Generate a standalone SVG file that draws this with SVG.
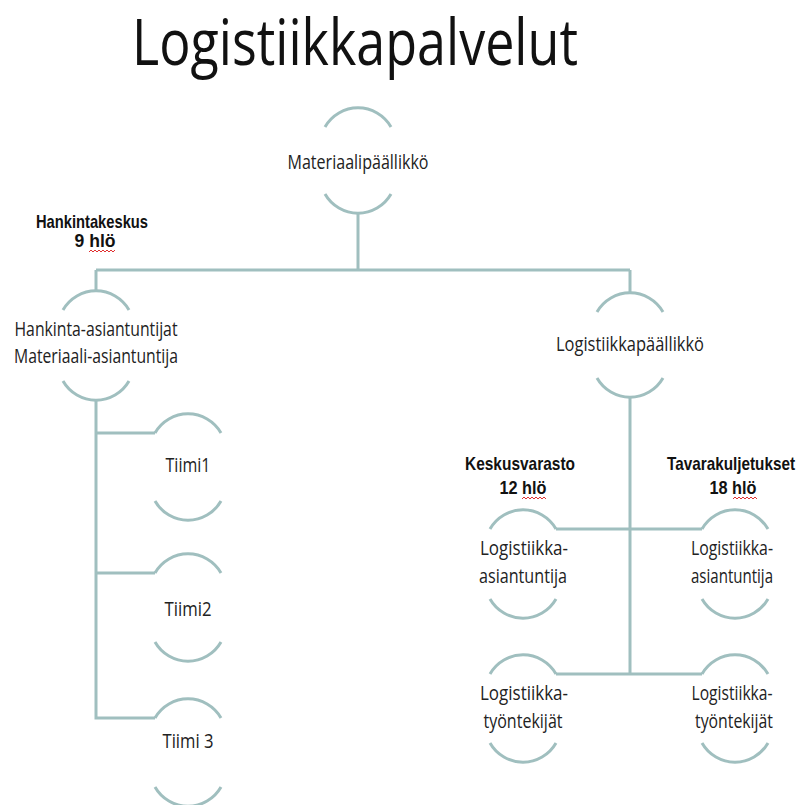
<svg xmlns="http://www.w3.org/2000/svg" width="798" height="805" viewBox="0 0 798 805">
<style>
.ln{fill:none;stroke:#a0bfbf;stroke-width:3;stroke-linecap:butt}
.arc{fill:none;stroke:#a0bfbf;stroke-width:3}
.t{font-family:"Open Sans","DejaVu Sans",sans-serif;font-size:20px;fill:#222;text-anchor:middle}
.b{font-family:"Liberation Sans",Arial,sans-serif;font-weight:bold;font-size:19px;fill:#111;text-anchor:middle}
.sq{fill:none;stroke:#e03030;stroke-width:1}
</style>
<rect width="798" height="805" fill="#fff"/>
<text x="132" y="65" font-family="Open Sans, DejaVu Sans, sans-serif" font-size="64" fill="#111" textLength="446" lengthAdjust="spacingAndGlyphs">Logistiikkapalvelut</text>

<g id="connectors">
<path class="ln" d="M358,213 V270"/>
<path class="ln" d="M96,270 H630"/>
<path class="ln" d="M96,270 V292"/>
<path class="ln" d="M630,270 V293"/>
<path class="ln" d="M96,399 V718 H155"/>
<path class="ln" d="M96,433 H155"/>
<path class="ln" d="M96,573 H155"/>
<path class="ln" d="M630,397 V674"/>
<path class="ln" d="M556,529 H702"/>
<path class="ln" d="M556,674 H702"/>
</g>

<g id="labels">
<text class="b" x="92" y="228" textLength="112" lengthAdjust="spacingAndGlyphs">Hankintakeskus</text>
<text class="b" x="95" y="247" textLength="41" lengthAdjust="spacingAndGlyphs">9 hlö</text>
<path class="sq" d="M89,252 l2,-2 l2,2 l2,-2 l2,2 l2,-2 l2,2 l2,-2 l2,2 l2,-2 l2,2 l2,-2 l2,2 l2,-2"/>
<text class="b" x="520" y="470" textLength="110" lengthAdjust="spacingAndGlyphs">Keskusvarasto</text>
<text class="b" x="523" y="494" textLength="47" lengthAdjust="spacingAndGlyphs">12 hlö</text>
<path class="sq" d="M522,499 l2,-2 l2,2 l2,-2 l2,2 l2,-2 l2,2 l2,-2 l2,2 l2,-2 l2,2 l2,-2 l2,2"/>
<text class="b" x="731" y="470" textLength="128" lengthAdjust="spacingAndGlyphs">Tavarakuljetukset</text>
<text class="b" x="733" y="494" textLength="47" lengthAdjust="spacingAndGlyphs">18 hlö</text>
<path class="sq" d="M733,499 l2,-2 l2,2 l2,-2 l2,2 l2,-2 l2,2 l2,-2 l2,2 l2,-2 l2,2 l2,-2 l2,2"/>
</g>

<g id="node-materiaalipaallikko">
<path class="arc" d="M325,127 A38,38 0 0 1 391,127"/>
<path class="arc" d="M325,194 A38,38 0 0 0 391,194"/>
<text class="t" x="358" y="169" textLength="141" lengthAdjust="spacingAndGlyphs">Materiaalipäällikkö</text>
</g>

<g id="node-hankinta">
<path class="arc" d="M63,310 A38,38 0 0 1 129,310"/>
<path class="arc" d="M63,381 A38,38 0 0 0 129,381"/>
<text class="t" x="96" y="336" textLength="163" lengthAdjust="spacingAndGlyphs">Hankinta-asiantuntijat</text>
<text class="t" x="96" y="363" textLength="164" lengthAdjust="spacingAndGlyphs">Materiaali-asiantuntija</text>
</g>

<g id="node-logistiikkapaallikko">
<path class="arc" d="M597,312 A38,38 0 0 1 663,312"/>
<path class="arc" d="M597,378 A38,38 0 0 0 663,378"/>
<text class="t" x="630" y="351" textLength="148" lengthAdjust="spacingAndGlyphs">Logistiikkapäällikkö</text>
</g>

<g id="node-tiimi1">
<path class="arc" d="M155,433 A38,38 0 0 1 221,433"/>
<path class="arc" d="M155,501 A38,38 0 0 0 221,501"/>
<text class="t" x="188" y="472" textLength="45" lengthAdjust="spacingAndGlyphs">Tiimi1</text>
</g>

<g id="node-tiimi2">
<path class="arc" d="M155,573 A38,38 0 0 1 221,573"/>
<path class="arc" d="M155,642 A38,38 0 0 0 221,642"/>
<text class="t" x="188" y="616" textLength="47" lengthAdjust="spacingAndGlyphs">Tiimi2</text>
</g>

<g id="node-tiimi3">
<path class="arc" d="M155,718 A38,38 0 0 1 221,718"/>
<path class="arc" d="M155,787 A38,38 0 0 0 221,787"/>
<text class="t" x="188" y="748" textLength="51" lengthAdjust="spacingAndGlyphs">Tiimi 3</text>
</g>

<g id="node-keskus-asiantuntija">
<path class="arc" d="M490,529 A38,38 0 0 1 556,529"/>
<path class="arc" d="M490,599 A38,38 0 0 0 556,599"/>
<text class="t" x="524" y="555" textLength="88" lengthAdjust="spacingAndGlyphs">Logistiikka-</text>
<text class="t" x="523" y="583" textLength="88" lengthAdjust="spacingAndGlyphs">asiantuntija</text>
</g>

<g id="node-tavara-asiantuntija">
<path class="arc" d="M702,529 A38,38 0 0 1 768,529"/>
<path class="arc" d="M702,599 A38,38 0 0 0 768,599"/>
<text class="t" x="732" y="555" textLength="82" lengthAdjust="spacingAndGlyphs">Logistiikka-</text>
<text class="t" x="732" y="583" textLength="82" lengthAdjust="spacingAndGlyphs">asiantuntija</text>
</g>

<g id="node-keskus-tyontekijat">
<path class="arc" d="M490,674 A38,38 0 0 1 556,674"/>
<path class="arc" d="M490,743 A38,38 0 0 0 556,743"/>
<text class="t" x="524" y="700" textLength="88" lengthAdjust="spacingAndGlyphs">Logistiikka-</text>
<text class="t" x="523" y="728" textLength="79" lengthAdjust="spacingAndGlyphs">työntekijät</text>
</g>

<g id="node-tavara-tyontekijat">
<path class="arc" d="M702,674 A38,38 0 0 1 768,674"/>
<path class="arc" d="M702,743 A38,38 0 0 0 768,743"/>
<text class="t" x="732" y="700" textLength="81" lengthAdjust="spacingAndGlyphs">Logistiikka-</text>
<text class="t" x="734" y="728" textLength="78" lengthAdjust="spacingAndGlyphs">työntekijät</text>
</g>
</svg>
